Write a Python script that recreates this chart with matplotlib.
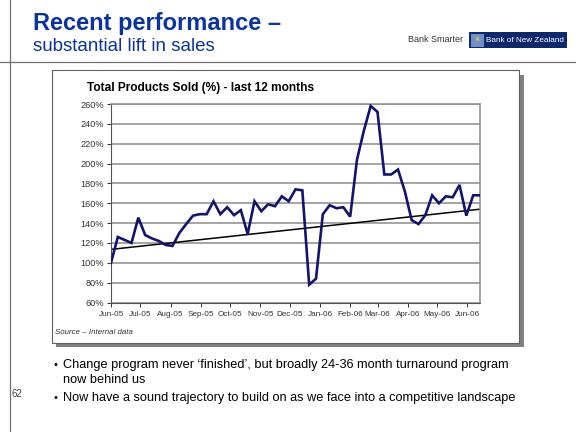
import numpy as np
import pandas as pd
import matplotlib
matplotlib.use('Agg')
import matplotlib.pyplot as plt
import matplotlib.dates as mdates
from matplotlib.patches import Rectangle
from matplotlib.lines import Line2D

# Weekly "Total Products Sold" index (%)
start_date = '2005-06-01'
sold_pct = [100, 126, 123, 120, 145.5, 128, 124.5, 122, 118, 117,
            130, 139, 147.5, 149, 149, 162, 149, 156, 148, 153,
            129, 162, 152, 159, 157, 167, 162, 174, 173, 78,
            84, 149, 158, 155, 156, 146.5, 204, 233, 258, 252,
            189, 189, 194, 172, 143, 139, 148, 168, 160, 167,
            166, 178.5, 147.5, 168, 168]
# Excel trendline as drawn on the slide (value at first and last week)
trend_ends = [113.5, 154]
y_ticks = [60, 80, 100, 120, 140, 160, 180, 200, 220, 240, 260]

title = 'Recent performance \u2013'
subtitle = 'substantial lift in sales'
chart_title = 'Total Products Sold (%) - last 12 months'
source = 'Source \u2013 Internal data'
bullet_lines = [['Change program never \u2018finished\u2019, but broadly 24-36 month turnaround program',
                 'now behind us'],
                ['Now have a sound trajectory to build on as we face into a competitive landscape']]
page_no = '62'

W, H = 576, 432
plt.rcParams['font.family'] = ['Liberation Sans', 'DejaVu Sans']

fig = plt.figure(figsize=(W / 100, H / 100), dpi=100)
fig.patch.set_facecolor('white')


def fx(px):
    return px / W


def fy(py):
    return 1 - py / H


# slide frame lines
fig.add_artist(Line2D([fx(0), fx(W)], [fy(62), fy(62)], color='#707070', lw=0.9))
fig.add_artist(Line2D([fx(9.5), fx(9.5)], [fy(0), fy(H)], color='#707070', lw=0.9))

# headline
blue = '#0a33a0'
fig.text(fx(33), fy(30), title, color=blue, fontsize=17, fontweight='bold', va='baseline')
fig.text(fx(33), fy(51), subtitle, color=blue, fontsize=13.5, va='baseline')

# logo
fig.text(fx(408), fy(40), 'Bank Smarter', color='#333333', fontsize=6.5, va='center')
fig.add_artist(Rectangle((fx(469), fy(48)), fx(98), 16 / H, color='#0b2a6e', lw=0))
fig.add_artist(Rectangle((fx(471), fy(46.5)), fx(13), 13 / H, color='#6f8fc8', lw=0))
fig.text(fx(477.5), fy(40), '\u2733', color='#e8d640', fontsize=6, va='center', ha='center',
         family=['DejaVu Sans'])
fig.text(fx(486), fy(40), 'Bank of New Zealand', color='white', fontsize=5.9, va='center')

# chart box with drop shadow
fig.add_artist(Rectangle((fx(56), fy(347)), fx(468), (347 - 75) / H, color='#808080', lw=0,
                         zorder=-2))
fig.add_artist(Rectangle((fx(52), fy(343)), fx(467), (343 - 70) / H,
                         facecolor='white', edgecolor='#606060', lw=0.8, zorder=-1))
fig.text(fx(87), fy(91), chart_title, fontsize=8.6, fontweight='bold', va='baseline')
fig.text(fx(55), fy(333), source, fontsize=5.7, style='italic', color='#333333', va='center')

# plot area
ax = fig.add_axes([fx(111), fy(302.5), fx(480 - 111), (302.5 - 104) / H])
ax.set_zorder(5)
dates = pd.date_range(start_date, periods=len(sold_pct), freq='7D')
x_num = mdates.date2num(dates)

for v in y_ticks:
    ax.axhline(v, color='#8c8c8c', lw=1.1, zorder=1)
ax.plot(dates, sold_pct, color='#14146e', lw=1.9, zorder=3, solid_joinstyle='miter')

# linear trend
ax.plot(dates[[0, -1]], trend_ends, color='black', lw=1.1, zorder=2)

ax.set_xlim(x_num[0], x_num[-1])
ax.set_ylim(60, 260)
ax.set_yticks(y_ticks)
ax.set_yticklabels([f'{v}%' for v in y_ticks])
ax.xaxis.set_major_locator(mdates.MonthLocator())
ax.xaxis.set_major_formatter(mdates.DateFormatter('%b-%y'))
ax.tick_params(axis='both', colors='#333333', length=3, width=0.7, pad=2)
ax.tick_params(axis='y', labelsize=6.6)
ax.tick_params(axis='x', labelsize=5.9, pad=3)
for side in ['top', 'right']:
    ax.spines[side].set_color('#8c8c8c')
    ax.spines[side].set_linewidth(1.1)
for side in ['left', 'bottom']:
    ax.spines[side].set_color('#555555')
    ax.spines[side].set_linewidth(0.8)

# bullets
bullet_y = [368, 401]
for by, lines in zip(bullet_y, bullet_lines):
    fig.text(fx(53), fy(by), '\u2022', fontsize=8, va='baseline')
    for k, line in enumerate(lines):
        fig.text(fx(63), fy(by + 15 * k), line, fontsize=9.2, va='baseline')
fig.text(fx(12), fy(397), page_no, fontsize=7, color='#444444', va='baseline')

fig.savefig('out.png', dpi=100)
